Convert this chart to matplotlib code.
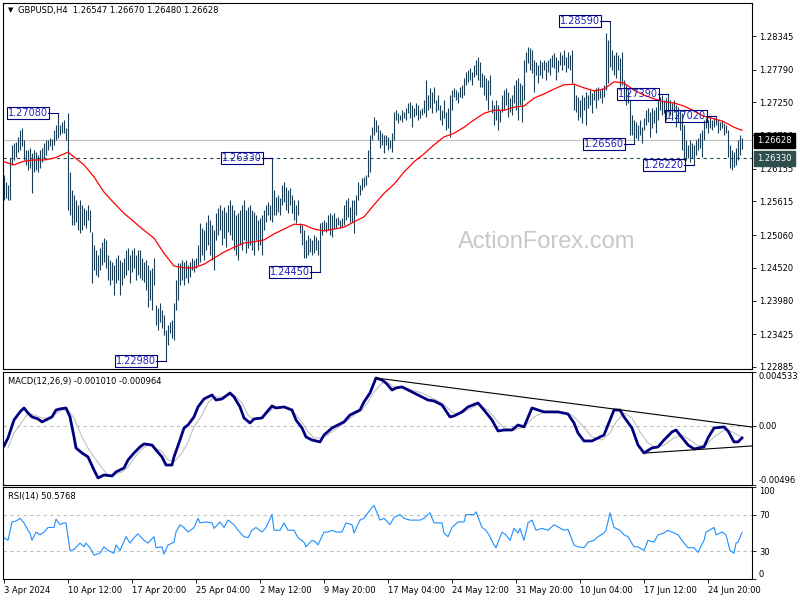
import matplotlib
matplotlib.use('Agg')
import matplotlib.pyplot as plt
import matplotlib.transforms as mtransforms

plt.rcParams['font.family'] = ['DejaVu Sans']

# H4 bars, 3 Apr - 27 Jun 2024 (high / low)
highs = [
    1.2605, 1.2594, 1.2589, 1.2633, 1.2655, 1.2658, 1.2660, 1.2668, 1.2679, 1.2683,
    1.2663, 1.2646, 1.2646, 1.2650, 1.2641, 1.2646, 1.2643, 1.2638, 1.2646, 1.2650,
    1.2658, 1.2663, 1.2663, 1.2666, 1.2665, 1.2679, 1.2688, 1.2708, 1.2688, 1.2693,
    1.2696, 1.2683, 1.2707, 1.2610, 1.2580, 1.2572, 1.2564, 1.2556, 1.2564, 1.2556,
    1.2551, 1.2547, 1.2556, 1.2547, 1.2511, 1.2490, 1.2481, 1.2473, 1.2485, 1.2495,
    1.2501, 1.2498, 1.2473, 1.2465, 1.2462, 1.2457, 1.2468, 1.2473, 1.2465, 1.2462,
    1.2468, 1.2481, 1.2485, 1.2473, 1.2481, 1.2485, 1.2473, 1.2481, 1.2481, 1.2468,
    1.2462, 1.2465, 1.2457, 1.2448, 1.2452, 1.2468, 1.2391, 1.2386, 1.2394, 1.2382,
    1.2374, 1.2349, 1.2358, 1.2363, 1.2366, 1.2394, 1.2432, 1.2460, 1.2460, 1.2465,
    1.2462, 1.2465, 1.2457, 1.2462, 1.2468, 1.2465, 1.2468, 1.2490, 1.2526, 1.2518,
    1.2514, 1.2528, 1.2539, 1.2531, 1.2523, 1.2514, 1.2542, 1.2551, 1.2556, 1.2547,
    1.2552, 1.2544, 1.2556, 1.2564, 1.2556, 1.2547, 1.2539, 1.2542, 1.2547, 1.2556,
    1.2564, 1.2547, 1.2552, 1.2556, 1.2547, 1.2544, 1.2539, 1.2531, 1.2534, 1.2539,
    1.2547, 1.2556, 1.2561, 1.2556, 1.2633, 1.2580, 1.2569, 1.2572, 1.2567, 1.2589,
    1.2594, 1.2585, 1.2580, 1.2584, 1.2572, 1.2564, 1.2556, 1.2564, 1.2526, 1.2523,
    1.2514, 1.2498, 1.2506, 1.2501, 1.2498, 1.2506, 1.2503, 1.2498, 1.2526, 1.2528,
    1.2531, 1.2528, 1.2539, 1.2542, 1.2539, 1.2542, 1.2534, 1.2536, 1.2531, 1.2534,
    1.2556, 1.2564, 1.2567, 1.2552, 1.2564, 1.2564, 1.2572, 1.2594, 1.2589, 1.2600,
    1.2602, 1.2605, 1.2646, 1.2671, 1.2684, 1.2701, 1.2696, 1.2688, 1.2679, 1.2674,
    1.2671, 1.2671, 1.2668, 1.2663, 1.2674, 1.2709, 1.2712, 1.2707, 1.2704, 1.2712,
    1.2709, 1.2716, 1.2724, 1.2726, 1.2721, 1.2716, 1.2724, 1.2721, 1.2712, 1.2716,
    1.2729, 1.2762, 1.2737, 1.2749, 1.2742, 1.2750, 1.2729, 1.2737, 1.2721, 1.2712,
    1.2729, 1.2709, 1.2716, 1.2737, 1.2745, 1.2749, 1.2745, 1.2742, 1.2750, 1.2754,
    1.2765, 1.2775, 1.2778, 1.2782, 1.2775, 1.2787, 1.2795, 1.2800, 1.2792, 1.2773,
    1.2770, 1.2765, 1.2762, 1.2770, 1.2729, 1.2721, 1.2729, 1.2721, 1.2712, 1.2737,
    1.2745, 1.2749, 1.2742, 1.2732, 1.2737, 1.2754, 1.2762, 1.2765, 1.2757, 1.2754,
    1.2795, 1.2808, 1.2816, 1.2815, 1.2811, 1.2795, 1.2792, 1.2787, 1.2795, 1.2792,
    1.2795, 1.2792, 1.2795, 1.2798, 1.2803, 1.2806, 1.2800, 1.2795, 1.2808, 1.2803,
    1.2811, 1.2800, 1.2808, 1.2803, 1.2811, 1.2757, 1.2737, 1.2734, 1.2729, 1.2737,
    1.2734, 1.2742, 1.2737, 1.2745, 1.2740, 1.2745, 1.2749, 1.2750, 1.2745, 1.2749,
    1.2754, 1.2839, 1.2828, 1.2859, 1.2811, 1.2803, 1.2808, 1.2803, 1.2798, 1.2808,
    1.2762, 1.2754, 1.2745, 1.2729, 1.2704, 1.2696, 1.2693, 1.2688, 1.2696, 1.2684,
    1.2699, 1.2712, 1.2716, 1.2709, 1.2716, 1.2712, 1.2717, 1.2729, 1.2734, 1.2737,
    1.2729, 1.2732, 1.2739, 1.2729, 1.2724, 1.2729, 1.2721, 1.2717, 1.2712, 1.2707,
    1.2688, 1.2663, 1.2655, 1.2663, 1.2658, 1.2655, 1.2663, 1.2666, 1.2674, 1.2679,
    1.2696, 1.2699, 1.2696, 1.2701, 1.2696, 1.2699, 1.2702, 1.2696, 1.2693, 1.2696,
    1.2691, 1.2688, 1.2679, 1.2655, 1.2646, 1.2643, 1.2650, 1.2663, 1.2671, 1.2667,
]
lows = [
    1.2564, 1.2567, 1.2564, 1.2564, 1.2622, 1.2630, 1.2635, 1.2643, 1.2646, 1.2653,
    1.2630, 1.2622, 1.2613, 1.2617, 1.2575, 1.2610, 1.2613, 1.2610, 1.2617, 1.2627,
    1.2633, 1.2638, 1.2646, 1.2653, 1.2646, 1.2655, 1.2663, 1.2666, 1.2671, 1.2674,
    1.2674, 1.2663, 1.2547, 1.2539, 1.2523, 1.2523, 1.2528, 1.2514, 1.2509, 1.2514,
    1.2523, 1.2518, 1.2531, 1.2511, 1.2427, 1.2448, 1.2440, 1.2437, 1.2448, 1.2457,
    1.2462, 1.2452, 1.2432, 1.2424, 1.2432, 1.2407, 1.2427, 1.2432, 1.2407, 1.2424,
    1.2435, 1.2440, 1.2448, 1.2427, 1.2445, 1.2452, 1.2432, 1.2440, 1.2435, 1.2432,
    1.2429, 1.2415, 1.2387, 1.2399, 1.2382, 1.2424, 1.2358, 1.2349, 1.2363, 1.2353,
    1.2341, 1.2298, 1.2325, 1.2344, 1.2336, 1.2333, 1.2382, 1.2399, 1.2424, 1.2432,
    1.2424, 1.2435, 1.2427, 1.2437, 1.2448, 1.2445, 1.2452, 1.2457, 1.2462, 1.2473,
    1.2465, 1.2481, 1.2490, 1.2473, 1.2465, 1.2448, 1.2498, 1.2506, 1.2514, 1.2490,
    1.2501, 1.2486, 1.2511, 1.2506, 1.2498, 1.2481, 1.2473, 1.2465, 1.2490, 1.2481,
    1.2498, 1.2476, 1.2485, 1.2490, 1.2481, 1.2473, 1.2498, 1.2481, 1.2490, 1.2473,
    1.2514, 1.2528, 1.2539, 1.2531, 1.2528, 1.2539, 1.2539, 1.2544, 1.2539, 1.2556,
    1.2561, 1.2547, 1.2542, 1.2556, 1.2542, 1.2531, 1.2526, 1.2539, 1.2509, 1.2490,
    1.2468, 1.2468, 1.2473, 1.2478, 1.2473, 1.2476, 1.2481, 1.2473, 1.2445, 1.2506,
    1.2514, 1.2511, 1.2514, 1.2506, 1.2503, 1.2518, 1.2518, 1.2523, 1.2518, 1.2519,
    1.2523, 1.2531, 1.2536, 1.2528, 1.2528, 1.2509, 1.2539, 1.2564, 1.2572, 1.2580,
    1.2585, 1.2589, 1.2602, 1.2610, 1.2663, 1.2671, 1.2676, 1.2663, 1.2650, 1.2655,
    1.2641, 1.2655, 1.2646, 1.2650, 1.2643, 1.2663, 1.2696, 1.2691, 1.2696, 1.2693,
    1.2699, 1.2696, 1.2707, 1.2699, 1.2684, 1.2701, 1.2704, 1.2696, 1.2699, 1.2704,
    1.2707, 1.2701, 1.2712, 1.2716, 1.2707, 1.2724, 1.2709, 1.2712, 1.2696, 1.2688,
    1.2699, 1.2679, 1.2683, 1.2668, 1.2712, 1.2734, 1.2729, 1.2724, 1.2734, 1.2732,
    1.2737, 1.2754, 1.2759, 1.2762, 1.2754, 1.2767, 1.2770, 1.2762, 1.2750, 1.2750,
    1.2737, 1.2729, 1.2712, 1.2737, 1.2707, 1.2688, 1.2696, 1.2679, 1.2693, 1.2709,
    1.2712, 1.2721, 1.2701, 1.2709, 1.2704, 1.2724, 1.2712, 1.2696, 1.2721, 1.2693,
    1.2729, 1.2775, 1.2790, 1.2778, 1.2773, 1.2742, 1.2770, 1.2757, 1.2770, 1.2765,
    1.2778, 1.2762, 1.2775, 1.2770, 1.2783, 1.2782, 1.2762, 1.2775, 1.2787, 1.2778,
    1.2787, 1.2775, 1.2782, 1.2778, 1.2757, 1.2712, 1.2709, 1.2696, 1.2701, 1.2691,
    1.2712, 1.2688, 1.2716, 1.2721, 1.2707, 1.2729, 1.2716, 1.2729, 1.2732, 1.2724,
    1.2734, 1.2745, 1.2757, 1.2783, 1.2778, 1.2770, 1.2765, 1.2778, 1.2750, 1.2754,
    1.2729, 1.2721, 1.2724, 1.2671, 1.2671, 1.2656, 1.2666, 1.2663, 1.2671, 1.2658,
    1.2679, 1.2688, 1.2693, 1.2668, 1.2683, 1.2691, 1.2674, 1.2696, 1.2712, 1.2704,
    1.2707, 1.2696, 1.2712, 1.2704, 1.2696, 1.2709, 1.2684, 1.2693, 1.2679, 1.2646,
    1.2630, 1.2630, 1.2633, 1.2627, 1.2633, 1.2622, 1.2638, 1.2646, 1.2650, 1.2635,
    1.2663, 1.2683, 1.2674, 1.2683, 1.2679, 1.2684, 1.2688, 1.2674, 1.2679, 1.2683,
    1.2671, 1.2674, 1.2635, 1.2617, 1.2613, 1.2618, 1.2622, 1.2630, 1.2638, 1.2648,
]

# red moving average, read at these bars
ma_idx = [0, 5, 10, 15, 20, 25, 30, 32, 35, 40, 45, 50, 55, 60, 65, 70, 75, 80, 85, 90,
          95, 100, 105, 110, 115, 120, 125, 130, 135, 140, 145, 150, 155, 160, 165, 170,
          175, 180, 185, 190, 195, 200, 205, 210, 215, 220, 225, 230, 235, 240, 245, 250,
          255, 260, 265, 270, 275, 280, 285, 290, 295, 300, 305, 310, 315, 320, 325, 330,
          335, 340, 345, 350, 355, 360, 365, 369]
ma_vals = [1.2627, 1.2622, 1.2628, 1.2630, 1.2630, 1.2633, 1.2640, 1.2643, 1.2635, 1.2622,
           1.2602, 1.2577, 1.2559, 1.2542, 1.2528, 1.2514, 1.2501, 1.2476, 1.2455, 1.2452,
           1.2452, 1.2458, 1.2468, 1.2478, 1.2486, 1.2493, 1.2495, 1.2498, 1.2508, 1.2516,
           1.2524, 1.2523, 1.2516, 1.2513, 1.2516, 1.2519, 1.2528, 1.2536, 1.2556, 1.2575,
           1.2590, 1.2610, 1.2627, 1.2640, 1.2655, 1.2668, 1.2674, 1.2684, 1.2696, 1.2707,
           1.2712, 1.2712, 1.2717, 1.2719, 1.2732, 1.2739, 1.2747, 1.2754, 1.2755, 1.2749,
           1.2744, 1.2747, 1.2759, 1.2757, 1.2745, 1.2737, 1.2731, 1.2726, 1.2724, 1.2719,
           1.2711, 1.2702, 1.2698, 1.2693, 1.2684, 1.2679]

# MACD(12,26,9) main line
macd_idx = [0, 2, 5, 8, 10, 12, 14, 17, 19, 22, 24, 26, 28, 31, 33, 35, 36, 39, 42, 45,
            47, 50, 54, 56, 60, 62, 65, 68, 70, 74, 76, 79, 81, 84, 85, 88, 90, 92, 95, 97,
            100, 104, 106, 109, 113, 115, 118, 120, 123, 125, 129, 131, 134, 136, 140, 144,
            146, 149, 151, 154, 158, 160, 164, 167, 170, 173, 175, 178, 180, 183, 185, 186,
            189, 191, 194, 196, 199, 204, 209, 212, 215, 219, 223, 225, 229, 232, 237, 240,
            244, 247, 250, 254, 257, 260, 264, 267, 270, 277, 282, 285, 287, 290, 294, 297,
            300, 303, 305, 308, 310, 314, 317, 320, 324, 327, 330, 334, 336, 340, 342, 345,
            350, 352, 355, 360, 362, 365, 367, 369]
macd_vals = [-0.00168, -0.00101, 0.00050, 0.00118, 0.00151, 0.00109, 0.00076, 0.00059,
             0.00034, 0.00059, 0.00076, 0.00134, 0.00143, 0.00151, 0.00076, -0.00092,
             -0.00185, -0.00227, -0.00260, -0.00370, -0.00437, -0.00412, -0.00420, -0.00386,
             -0.00353, -0.00286, -0.00227, -0.00176, -0.00151, -0.00160, -0.00202, -0.00260,
             -0.00328, -0.00328, -0.00260, -0.00118, -0.00017, 0.00008, 0.00076, 0.00160,
             0.00227, 0.00260, 0.00218, 0.00227, 0.00277, 0.00244, 0.00160, 0.00067,
             0.00025, 0.00059, 0.00067, 0.00109, 0.00168, 0.00151, 0.00160, 0.00134,
             0.00050, -0.00017, -0.00092, -0.00118, -0.00134, -0.00076, -0.00017, 0.00008,
             0.00034, 0.00092, 0.00109, 0.00134, 0.00202, 0.00277, 0.00361, 0.00403,
             0.00386, 0.00361, 0.00302, 0.00319, 0.00328, 0.00286, 0.00244, 0.00218,
             0.00210, 0.00176, 0.00076, 0.00084, 0.00118, 0.00160, 0.00193, 0.00134,
             0.00050, -0.00042, -0.00034, -0.00034, 0.00008, -0.00008, 0.00151, 0.00134,
             0.00118, 0.00118, 0.00101, 0.00025, -0.00059, -0.00126, -0.00126, -0.00101,
             -0.00076, 0.00050, 0.00134, 0.00134, 0.00076, -0.00017, -0.00160, -0.00227,
             -0.00185, -0.00176, -0.00118, -0.00050, -0.00034, -0.00118, -0.00160, -0.00193,
             -0.00176, -0.00101, -0.00017, -0.00008, -0.00042, -0.00134, -0.00134, -0.00101]

# MACD signal line
signal_idx = [2, 5, 9, 12, 15, 19, 22, 25, 29, 32, 35, 39, 42, 45, 49, 52, 55, 59, 62, 65,
              69, 72, 75, 79, 82, 85, 89, 92, 95, 99, 102, 105, 109, 112, 115, 119, 122, 125,
              129, 132, 135, 139, 142, 145, 149, 152, 155, 159, 162, 165, 169, 172, 175, 179,
              182, 185, 189, 192, 195, 199, 204, 209, 214, 219, 224, 227, 232, 237, 242, 247,
              250, 255, 260, 265, 270, 277, 284, 289, 294, 299, 303, 306, 310, 314, 318, 322,
              326, 330, 335, 339, 343, 347, 351, 355, 360, 364, 367, 369]
signal_vals = [-0.00185, -0.00059, 0.00034, 0.00109, 0.00092, 0.00067, 0.00067, 0.00092,
               0.00134, 0.00134, 0.00067, -0.00092, -0.00185, -0.00260, -0.00353, -0.00412,
               -0.00412, -0.00386, -0.00344, -0.00269, -0.00193, -0.00160, -0.00176, -0.00218,
               -0.00286, -0.00302, -0.00227, -0.00134, -0.00008, 0.00092, 0.00193, 0.00244,
               0.00244, 0.00260, 0.00260, 0.00193, 0.00092, 0.00050, 0.00067, 0.00109,
               0.00151, 0.00160, 0.00151, 0.00109, 0.00034, -0.00050, -0.00101, -0.00101,
               -0.00076, -0.00034, 0.00008, 0.00050, 0.00092, 0.00134, 0.00202, 0.00286,
               0.00361, 0.00361, 0.00328, 0.00328, 0.00302, 0.00277, 0.00235, 0.00193,
               0.00118, 0.00092, 0.00134, 0.00176, 0.00134, 0.00034, -0.00017, -0.00034,
               -0.00008, 0.00076, 0.00118, 0.00118, 0.00092, 0.00008, -0.00092, -0.00118,
               -0.00059, 0.00034, 0.00109, 0.00067, -0.00050, -0.00143, -0.00185, -0.00160,
               -0.00101, -0.00076, -0.00118, -0.00168, -0.00160, -0.00092, -0.00034, -0.00050,
               -0.00076, -0.00096]

# MACD trend lines drawn on the chart (start bar, end bar)
macd_upper_x = [186, 374]
macd_upper_y = [0.00403, -0.00009]
macd_lower_x = [321, 374]
macd_lower_y = [-0.00227, -0.00168]

# RSI(14)
rsi_idx = [0, 2, 4, 6, 8, 10, 12, 13, 14, 16, 18, 20, 22, 25, 26, 28, 30, 31, 33, 35, 38,
           40, 41, 43, 45, 48, 50, 52, 55, 56, 58, 61, 63, 65, 67, 70, 72, 75, 76, 79, 80,
           82, 85, 86, 88, 90, 92, 95, 97, 98, 101, 104, 105, 108, 110, 112, 115, 117, 120,
           122, 124, 126, 129, 131, 134, 135, 138, 140, 142, 145, 147, 150, 151, 154, 156,
           157, 160, 162, 164, 166, 169, 171, 174, 175, 178, 180, 183, 185, 188, 190, 193,
           195, 198, 200, 203, 208, 210, 213, 215, 217, 219, 220, 222, 224, 227, 230, 231,
           235, 236, 239, 241, 243, 245, 246, 249, 251, 253, 255, 257, 258, 260, 262, 264,
           266, 269, 272, 275, 280, 282, 285, 287, 290, 292, 295, 297, 300, 301, 303, 305,
           308, 310, 312, 315, 317, 320, 322, 325, 327, 330, 332, 335, 337, 340, 342, 345,
           347, 350, 351, 355, 356, 359, 361, 363, 365, 366, 367, 369]
rsi_vals = [45, 42, 62, 63, 66, 61, 53, 50, 42, 51, 48, 51, 56, 56, 65, 59, 61, 61, 31, 32,
            39, 35, 39, 34, 26, 28, 35, 31, 28, 37, 31, 46, 39, 45, 49, 42, 39, 46, 34, 35,
            27, 37, 40, 51, 59, 56, 51, 56, 66, 61, 62, 61, 55, 62, 56, 64, 59, 53, 46, 45,
            53, 56, 51, 56, 70, 53, 53, 61, 53, 53, 45, 40, 35, 42, 40, 37, 51, 51, 53, 51,
            51, 61, 59, 50, 64, 66, 75, 80, 64, 66, 59, 67, 70, 66, 64, 64, 66, 72, 61, 61,
            61, 50, 46, 56, 62, 62, 70, 70, 73, 56, 53, 46, 37, 34, 51, 48, 42, 55, 50, 55,
            42, 61, 64, 53, 55, 53, 59, 53, 54, 37, 35, 34, 40, 42, 46, 50, 53, 72, 56, 53,
            48, 46, 35, 35, 31, 42, 40, 48, 50, 53, 50, 48, 39, 34, 34, 29, 42, 51, 56, 48,
            51, 48, 31, 28, 39, 40, 50.6]

price_ticks = [1.28345, 1.27790, 1.27250, 1.26710, 1.26155, 1.25615, 1.25060,
               1.24520, 1.23980, 1.23425, 1.22885]
date_idx = [0, 32, 64, 96, 128, 160, 192, 224, 256, 288, 320, 352]
date_labels = ['3 Apr 2024', '10 Apr 12:00', '17 Apr 20:00', '25 Apr 04:00', '2 May 12:00',
               '9 May 20:00', '17 May 04:00', '24 May 12:00', '31 May 20:00', '10 Jun 04:00',
               '17 Jun 12:00', '24 Jun 20:00']

# swing high / low labels
swing_bars = [27, 81, 134, 158, 303, 315, 332, 345, 356]
swing_prices = [1.2708, 1.2298, 1.2633, 1.2445, 1.2859, 1.2656, 1.2739, 1.2622, 1.2702]

last_price = 1.26628
level_price = 1.26330

BAR_COLOR = '#1b3f56'
FS = 6

fig = plt.figure(figsize=(8, 6), dpi=100)
ax1 = fig.add_axes([3 / 800, 1 - 369 / 600, 749 / 800, 366 / 600])
ax2 = fig.add_axes([3 / 800, 1 - 485 / 600, 749 / 800, 113 / 600])
ax3 = fig.add_axes([3 / 800, 1 - 579 / 600, 749 / 800, 92 / 600])

for ax in (ax1, ax2, ax3):
    ax.set_xlim(-0.5, 374)
    for s in ax.spines.values():
        s.set_linewidth(0.8)
        s.set_color('black')
    ax.yaxis.tick_right()
    ax.tick_params(axis='y', direction='out', length=3, width=0.6, labelsize=FS, pad=2)
    ax.tick_params(axis='x', bottom=False, labelbottom=False)

# ---- price pane ----
x = list(range(len(highs)))
ax1.vlines(x, lows, highs, color=BAR_COLOR, lw=0.8)
ax1.plot(ma_idx, ma_vals, color='red', lw=0.9)
ax1.axhline(last_price, color='#c0c0c0', lw=0.8, zorder=0)
ax1.axhline(level_price, color='#2f4f4f', lw=0.8, ls=(0, (3, 3)), zorder=0)
ax1.set_ylim(1.22851, 1.28890)
ax1.set_yticks(price_ticks)
ax1.set_yticklabels([f'{p:.5f}' for p in price_ticks])

for b, p in zip(swing_bars, swing_prices):
    ax1.plot([b - 5, b], [p, p], color='#000080', lw=0.8)
    ax1.text(b - 5, p, f'{p:.5f}', ha='right', va='center', fontsize=7, color='#2020c0',
             bbox=dict(boxstyle='square,pad=0.12', fc='none', ec='#000080', lw=0.8))

# current price / level boxes on the price scale (they cover part of the 1.26710 label)
tr = mtransforms.blended_transform_factory(ax1.transAxes, ax1.transData)
ax1.text(1.007, last_price, f'{last_price:.5f}', transform=tr, ha='left', va='center',
         fontsize=FS, color='white', zorder=5,
         bbox=dict(boxstyle='square,pad=0.35', fc='black', ec='black'))
ax1.text(1.007, level_price, f'{level_price:.5f}', transform=tr, ha='left', va='center',
         fontsize=FS, color='white', zorder=5,
         bbox=dict(boxstyle='square,pad=0.35', fc='#2f4f4f', ec='#2f4f4f'))

fig.text(547 / 800, 1 - 242 / 600, 'ActionForex.com', ha='center', va='center',
         fontsize=17, family='Liberation Sans', color='#c8c8c8', zorder=0)
fig.text(8 / 800, 1 - 10 / 600, '\u25bc', fontsize=5, va='center')
fig.text(18 / 800, 1 - 10 / 600, 'GBPUSD,H4  1.26547 1.26670 1.26480 1.26628',
         fontsize=6, va='center')

# ---- MACD pane ----
ax2.axhline(0, color='#c0c0c0', lw=0.8, ls=(0, (3, 3)))
ax2.plot(signal_idx, signal_vals, color='#c0c0c0', lw=0.8)
ax2.plot(macd_idx, macd_vals, color='#000080', lw=2.0)
ax2.plot(macd_upper_x, macd_upper_y, color='black', lw=0.8)
ax2.plot(macd_lower_x, macd_lower_y, color='black', lw=0.8)
ax2.set_ylim(-0.00496, 0.004533)
ax2.set_yticks([-0.00496, 0, 0.004533])
ax2.set_yticklabels(['-0.00496', '0.00', '0.004533'])
lbl = ax2.get_yticklabels()
lbl[0].set_va('bottom')
lbl[2].set_va('top')
ax2.text(0.007, 0.92, 'MACD(12,26,9) -0.001010 -0.000964', transform=ax2.transAxes,
         fontsize=FS, va='center')

# ---- RSI pane ----
ax3.axhline(70, color='#c0c0c0', lw=0.8, ls=(0, (3, 3)))
ax3.axhline(30, color='#c0c0c0', lw=0.8, ls=(0, (3, 3)))
ax3.plot(rsi_idx, rsi_vals, color='#1e90ff', lw=0.8)
ax3.set_ylim(0, 100)
ax3.set_yticks([0, 30, 70, 100])
ax3.set_yticklabels(['0', '30', '70', '100'])
lbl = ax3.get_yticklabels()
lbl[0].set_va('bottom')
lbl[3].set_va('top')
ax3.text(0.007, 0.9, 'RSI(14) 50.5768', transform=ax3.transAxes, fontsize=FS, va='center')

ax3.tick_params(axis='x', bottom=True, labelbottom=True, direction='out', length=3,
                width=0.6, labelsize=FS, pad=2)
ax3.set_xticks(date_idx)
ax3.set_xticklabels(date_labels)
for t in ax3.get_xticklabels():
    t.set_ha('left')

fig.savefig('out.png', dpi=100)
